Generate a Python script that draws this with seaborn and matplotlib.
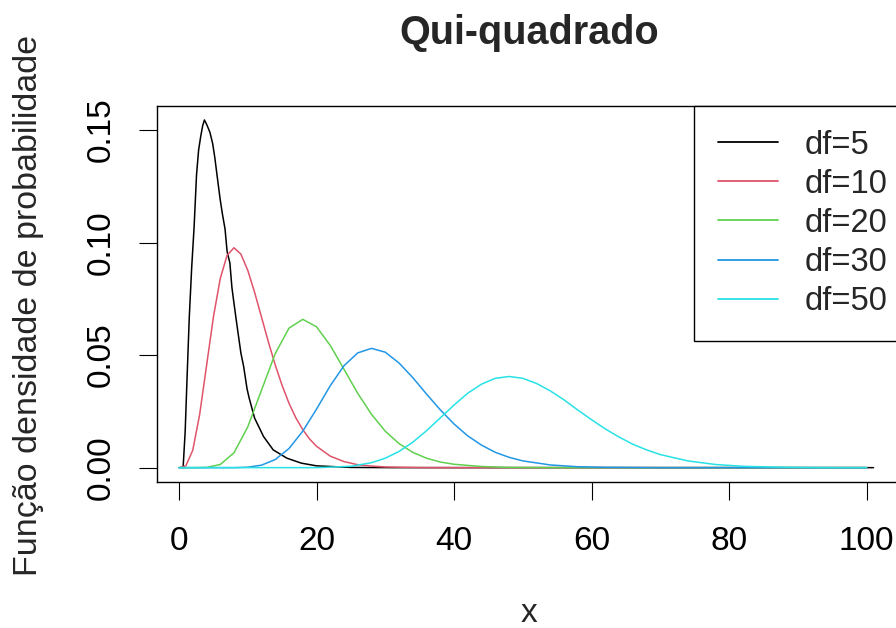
import matplotlib
matplotlib.use("Agg")
import matplotlib.pyplot as plt
import seaborn as sns
import pandas as pd

# ---- data ----
black_x = [0.6, 0.9, 1.2, 1.5, 1.85, 2.2, 2.55, 2.85, 3.15, 3.45, 3.7, 4.1, 4.5, 4.9,
           5.2, 5.7, 6.0, 6.3, 6.7, 7.0, 7.4, 7.7, 8.0, 8.4, 9.0, 9.4, 9.9, 10.2, 11.0,
           12.3, 13.7, 15.7, 17.8, 20.0, 25.0, 31.0, 101.0]
black_y = [0.0, 0.016, 0.042, 0.067, 0.089, 0.107, 0.130, 0.141, 0.147, 0.152, 0.1545,
           0.152, 0.149, 0.144, 0.138, 0.126, 0.119, 0.113, 0.106, 0.096, 0.091, 0.080,
           0.073, 0.064, 0.051, 0.045, 0.035, 0.031, 0.022, 0.0138, 0.0079, 0.0042,
           0.0020, 0.0008, 0.0001, 0.0, 0.0]

red_x = [0, 1, 2, 3, 4, 5, 6, 7, 8, 9, 10, 11, 12, 13, 14, 15, 16, 17, 18, 19, 20,
         22, 24, 26, 28, 30, 35, 40, 100]
red_y = [0.0, 0.0008, 0.0077, 0.0235, 0.0451, 0.0668, 0.0840, 0.0944, 0.0977, 0.0949,
         0.0877, 0.0779, 0.0669, 0.0559, 0.0456, 0.0365, 0.0286, 0.0221, 0.0169, 0.0127,
         0.0095, 0.0051, 0.0027, 0.0013, 0.0007, 0.0003, 0.00005, 0.0, 0.0]

green_x = [0, 2, 4, 6, 8, 10, 12, 14, 16, 18, 20, 22, 24, 26, 28, 30, 32, 34, 36, 38,
           40, 44, 48, 55, 100]
green_y = [0.0, 0.0, 0.0001, 0.0014, 0.0066, 0.0181, 0.0344, 0.0507, 0.0620, 0.0659,
           0.0626, 0.0543, 0.0437, 0.0330, 0.0237, 0.0162, 0.0107, 0.0068, 0.0042,
           0.0025, 0.0015, 0.0005, 0.0001, 0.0, 0.0]

blue_x = [0, 8, 10, 12, 14, 16, 18, 20, 22, 24, 26, 28, 30, 32, 34, 36, 38, 40, 42,
          44, 46, 48, 50, 54, 58, 62, 70, 100]
blue_y = [0.0, 0.0, 0.0002, 0.0011, 0.0036, 0.0085, 0.0162, 0.0260, 0.0364, 0.0453,
          0.0510, 0.0530, 0.0513, 0.0465, 0.0400, 0.0327, 0.0257, 0.0194, 0.0141,
          0.0100, 0.0068, 0.0046, 0.0030, 0.0012, 0.0004, 0.00015, 0.0, 0.0]

cyan_x = [0, 20, 25, 28, 30, 32, 34, 36, 38, 40, 42, 44, 46, 48, 50, 52, 54, 56, 58,
          60, 62, 64, 66, 68, 70, 74, 78, 82, 86, 90, 95, 100]
cyan_y = [0.0, 0.0, 0.0006, 0.0022, 0.0042, 0.0072, 0.0113, 0.0164, 0.0221, 0.0278,
          0.0331, 0.0371, 0.0397, 0.0405, 0.0397, 0.0374, 0.0341, 0.0301, 0.0256,
          0.0213, 0.0172, 0.0136, 0.0104, 0.0079, 0.0058, 0.0030, 0.0014, 0.0006,
          0.0003, 0.0001, 0.0, 0.0]

labels = ["df=5", "df=10", "df=20", "df=30", "df=50"]
colors = ["#000000", "#DF536B", "#61D04F", "#2297E6", "#28E2E5"]
x_ticks = [0, 20, 40, 60, 80, 100]
y_ticks = [0.00, 0.05, 0.10, 0.15]
y_tick_labels = ["0.00", "0.05", "0.10", "0.15"]

series = [(black_x, black_y), (red_x, red_y), (green_x, green_y),
          (blue_x, blue_y), (cyan_x, cyan_y)]

# ---- style ----
sns.set_style("ticks")
plt.rcParams["font.family"] = ["Liberation Sans", "DejaVu Sans"]

W, H = 896, 628
fig = plt.figure(figsize=(W / 100, H / 100), dpi=100)
left, right, top, bottom = 156.7, 901.0, 106.0, 481.6
ax = fig.add_axes([left / W, 1 - bottom / H, (right - left) / W, (bottom - top) / H])

for (xs, ys), lab, col in zip(series, labels, colors):
    df = pd.DataFrame({"x": xs, "y": ys})
    sns.lineplot(data=df, x="x", y="y", color=col, label=lab, linewidth=1.1,
                 estimator=None, sort=False, ax=ax)

ax.set_xlim(-3.24, 105.0)
ax.set_ylim(-0.0062, 0.1607)
ax.set_xticks(x_ticks)
ax.set_xticklabels([str(t) for t in x_ticks])
ax.set_yticks(y_ticks)
ax.set_yticklabels(y_tick_labels, rotation=90, va="center")

for sp in ax.spines.values():
    sp.set_visible(True)
    sp.set_color("black")
    sp.set_linewidth(1.0)

ax.tick_params(axis="both", direction="out", length=13, width=0.8, color="black",
               labelsize=24, labelcolor="black")
ax.tick_params(axis="x", pad=19)
ax.tick_params(axis="y", pad=16)

ax.set_xlabel("x", fontsize=24)
ax.xaxis.set_label_coords(0.5, -0.311)
ax.set_ylabel("Função densidade de probabilidade", fontsize=24.5)
ax.yaxis.set_label_coords(-0.152, 0.468)
ax.set_title("Qui-quadrado", fontsize=28.5, fontweight="bold", pad=45)

leg = ax.legend(loc="upper right", bbox_to_anchor=(1 + 10 / 744.3, 1.0),
                borderaxespad=0, fancybox=False, framealpha=1,
                edgecolor="black", fontsize=23.5, handlelength=1.84, handletextpad=0.82,
                labelspacing=0.25, borderpad=0.72)
leg.get_frame().set_linewidth(1.0)
for line in leg.get_lines():
    line.set_linewidth(1.3)

fig.savefig("out.png", dpi=100)
